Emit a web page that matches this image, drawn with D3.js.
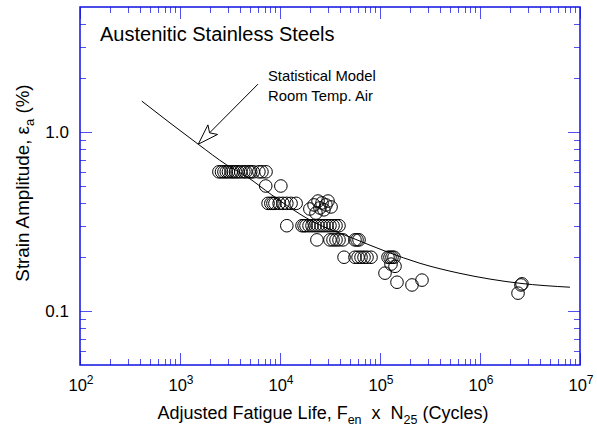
<!DOCTYPE html>
<html>
<head>
<meta charset="utf-8">
<script src="https://cdn.jsdelivr.net/npm/d3@7"></script>
<style>
  body { margin: 0; background: #fff; }
  svg { display: block; font-family: "Liberation Sans", Arial, Helvetica, sans-serif; }
</style>
</head>
<body>
<svg id="chart" width="597" height="433"></svg>
<script>
// Axis ticks
const xDecadeExponents = ["2", "3", "4", "5", "6", "7"];
const yMajorValues = [0.1, 1.0];
const yMajorLabels = ["0.1", "1.0"];

// Test results: adjusted fatigue life (cycles) and strain amplitude (%)
const testLife = [
  // 0.6 %
  2450, 2600, 2750, 2900, 3050, 3250, 3400, 3600, 3800, 4050, 4350, 4550, 4900, 5100, 5400, 6150, 6600, 7250,
  // 0.5 %
  7200, 10200,
  // 0.4 %
  7600, 8100, 8500, 8900, 9800, 10700, 11700, 12900, 14500,
  // 0.35 - 0.42 %
  19900, 21900, 24000, 25100, 26300, 27500, 28800, 30200, 32400, 22900,
  // 0.3 %
  11700, 16600, 17400, 18200, 19500, 20900, 22400, 24000, 25700, 27500, 29500, 31600, 33900, 36300, 38900,
  // 0.25 %
  23400, 31600, 33900, 36300, 38900, 42700, 56200, 58900, 61700,
  // 0.2 %
  43700, 56200, 60300, 64600, 69200, 74100, 81300, 120200, 125900, 131800, 138000,
  // below 0.2 %
  128800, 141300, 112200, 147900, 208900, 263000, 2570000, 2630000, 2400000
];
const testStrain = [
  0.6, 0.6, 0.6, 0.6, 0.6, 0.6, 0.6, 0.6, 0.6, 0.6, 0.6, 0.6, 0.6, 0.6, 0.6, 0.6, 0.6, 0.6,
  0.5, 0.5,
  0.4, 0.4, 0.4, 0.4, 0.4, 0.4, 0.4, 0.4, 0.4,
  0.372, 0.392, 0.412, 0.377, 0.402, 0.368, 0.392, 0.412, 0.382, 0.353,
  0.3, 0.3, 0.3, 0.3, 0.3, 0.3, 0.3, 0.3, 0.3, 0.3, 0.3, 0.3, 0.3, 0.3, 0.3,
  0.25, 0.25, 0.25, 0.25, 0.25, 0.25, 0.25, 0.25, 0.25,
  0.2, 0.2, 0.2, 0.2, 0.2, 0.2, 0.2, 0.2, 0.2, 0.2, 0.2,
  0.183, 0.178, 0.163, 0.145, 0.14, 0.149, 0.14, 0.142, 0.126
];

// Statistical model curve, room temperature air
const modelLife = [415, 1520, 2930, 4650, 8300, 20900, 54000, 117000, 251000, 631000, 2510000, 7940000];
const modelStrain = [1.49, 0.856, 0.656, 0.564, 0.445, 0.318, 0.255, 0.2145, 0.185, 0.1625, 0.143, 0.136];

const svg = d3.select("#chart");
const plotLeft = 80, plotRight = 580, plotTop = 7, plotBottom = 365;
const frameColor = "#1010e0";
const tickColor = "#5050f0";

const x = d3.scaleLog().domain([1e2, 1e7]).range([plotLeft, plotRight]);
const y = d3.scaleLog().domain([0.05, 5]).range([plotBottom, plotTop]);

// Tick positions: majors at decades, minors at 2..9
const xMajor = xDecadeExponents.map(e => Math.pow(10, +e));
const xMinor = [];
for (let d = 2; d < 7; d++) for (let m = 2; m <= 9; m++) xMinor.push(m * Math.pow(10, d));
const yMinor = [];
for (let d = -2; d <= 0; d++) for (let m = 2; m <= 9; m++) {
  const v = m * Math.pow(10, d);
  if (v > 0.05 && v < 5) yMinor.push(v);
}

const ticks = svg.append("g").attr("stroke", tickColor).attr("stroke-width", 1).attr("shape-rendering", "crispEdges");
function xTick(v, len) {
  const px = Math.round(x(v)) + 0.5;
  ticks.append("line").attr("x1", px).attr("x2", px).attr("y1", plotBottom).attr("y2", plotBottom - len);
  ticks.append("line").attr("x1", px).attr("x2", px).attr("y1", plotTop).attr("y2", plotTop + len);
}
function yTick(v, len) {
  const py = Math.round(y(v)) + 0.5;
  ticks.append("line").attr("y1", py).attr("y2", py).attr("x1", plotLeft).attr("x2", plotLeft + len);
  ticks.append("line").attr("y1", py).attr("y2", py).attr("x1", plotRight).attr("x2", plotRight - len);
}
xMinor.forEach(v => xTick(v, 6));
xMajor.forEach(v => xTick(v, 12));
yMinor.forEach(v => yTick(v, 6));
yMajorValues.forEach(v => yTick(v, 12));

svg.append("rect")
  .attr("x", plotLeft).attr("y", plotTop).attr("width", plotRight - plotLeft).attr("height", plotBottom - plotTop)
  .attr("fill", "none").attr("stroke", frameColor).attr("stroke-width", 1.5);

// X tick labels: 10 with superscript exponent
const xl = svg.append("g").attr("fill", "#000").attr("font-size", 16.5);
xDecadeExponents.forEach((e, i) => {
  const t = xl.append("text").attr("x", x(xMajor[i]) + 1).attr("y", 391).attr("text-anchor", "middle");
  t.append("tspan").text("10");
  t.append("tspan").attr("font-size", 12).attr("dy", -7).text(e);
});

// Y tick labels
yMajorValues.forEach((v, i) => {
  svg.append("text").attr("x", 69).attr("y", y(v)).attr("dy", "0.36em")
    .attr("text-anchor", "end").attr("font-size", 17).text(yMajorLabels[i]);
});

// Axis titles
const xt = svg.append("text").attr("x", 323).attr("y", 419)
  .attr("text-anchor", "middle").attr("font-size", 18).attr("xml:space", "preserve")
  .style("white-space", "pre");
xt.append("tspan").text("Adjusted Fatigue Life, F");
xt.append("tspan").attr("font-size", 12.5).attr("dy", 5).text("en");
xt.append("tspan").attr("dy", -5).text("  x  N");
xt.append("tspan").attr("font-size", 12.5).attr("dy", 5).text("25");
xt.append("tspan").attr("dy", -5).text(" (Cycles)");

const yt = svg.append("text").attr("transform", "translate(29,183) rotate(-90)")
  .attr("text-anchor", "middle").attr("font-size", 18.8);
yt.append("tspan").text("Strain Amplitude, \u03b5");
yt.append("tspan").attr("font-size", 13).attr("dy", 5).text("a");
yt.append("tspan").attr("dy", -5).text(" (%)");

// Model curve
const line = d3.line().x(d => x(d[0])).y(d => y(d[1])).curve(d3.curveMonotoneX);
svg.append("path")
  .datum(modelLife.map((n, i) => [n, modelStrain[i]]))
  .attr("d", line).attr("fill", "none").attr("stroke", "#000").attr("stroke-width", 1);

// Test points
svg.append("g").selectAll("circle")
  .data(testLife.map((n, i) => [n, testStrain[i]]))
  .join("circle")
  .attr("cx", d => x(d[0])).attr("cy", d => y(d[1])).attr("r", 6.3)
  .attr("fill", "none").attr("stroke", "#000").attr("stroke-width", 1);

// Annotation arrow pointing at the model curve
const tip = [x(1524), y(0.856)];
const tail = [x(6030), y(1.855)];
const ang = Math.atan2(tail[1] - tip[1], tail[0] - tip[0]);
const ux = Math.cos(ang), uy = Math.sin(ang), vx = -uy, vy = ux;
const at = (a, p) => [tip[0] + ux * a + vx * p, tip[1] + uy * a + vy * p];
const notch = at(16, 0);
svg.append("line")
  .attr("x1", notch[0]).attr("y1", notch[1]).attr("x2", tail[0]).attr("y2", tail[1])
  .attr("stroke", "#000").attr("stroke-width", 1);
svg.append("path")
  .attr("d", d3.line()([tip, at(20.5, -6.8), notch, at(20.5, 6.8)]) + "Z")
  .attr("fill", "#fff").attr("stroke", "#000").attr("stroke-width", 1);

// Labels
svg.append("text").attr("x", 100).attr("y", 41).attr("font-size", 20).text("Austenitic Stainless Steels");
svg.append("text").attr("x", 268).attr("y", 81).attr("font-size", 14.8).text("Statistical Model");
svg.append("text").attr("x", 268).attr("y", 101).attr("font-size", 14.8).text("Room Temp. Air");
</script>
</body>
</html>
